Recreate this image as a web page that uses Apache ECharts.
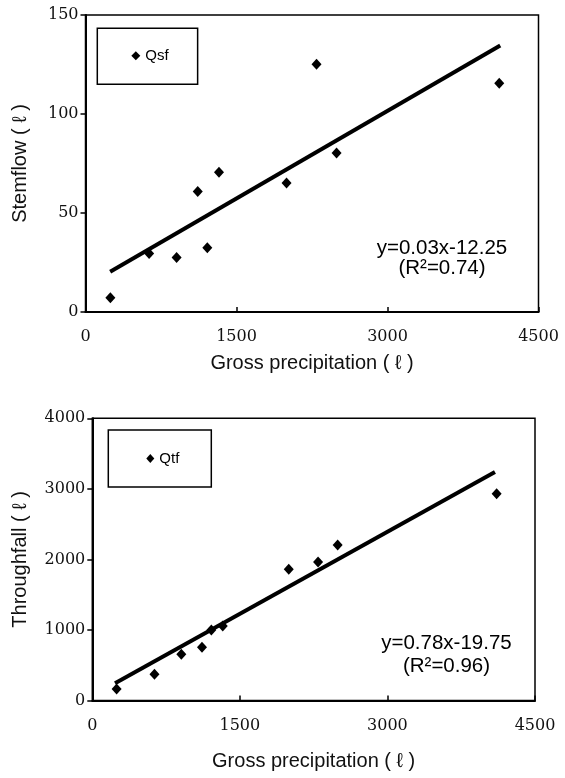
<!DOCTYPE html>
<html>
<head>
<meta charset="utf-8">
<script src="https://cdn.jsdelivr.net/npm/echarts@6/dist/echarts.min.js"></script>
<style>
html,body{margin:0;padding:0;background:#fff;}
#chart{width:565px;height:778px;}
</style>
</head>
<body>
<div id="chart"></div>
<script>
// Gross precipitation (l) for each event, shared by both panels
var grossPrecip = [247, 632, 905, 1115, 1210, 1326, 1997, 2295, 2494, 4110];
// Stemflow (l)
var stemflow = [7.2, 29.5, 27.5, 60.9, 32.5, 70.6, 65.2, 125.1, 80.3, 115.5];
// Throughfall (l)
var throughfall = [163, 371, 655, 754, 999, 1056, 1860, 1963, 2204, 2931];
// Fitted line end points as drawn
var stemFitX = [245, 4120];
var stemFitY = [20.3, 134.6];
var thruFitX = [231, 4093];
var thruFitY = [244, 3239];
// Axis ticks
var xTicks = [0, 1500, 3000, 4500];
var stemTicks = [0, 50, 100, 150];
var thruTicks = [0, 1000, 2000, 3000, 4000];
var stemEq = ['y=0.03x-12.25', '(R\u00B2=0.74)'];
var thruEq = ['y=0.78x-19.75', '(R\u00B2=0.96)'];

function pairs(xs, ys){ return xs.map(function(x,i){ return [x, ys[i]]; }); }

var sans = '"Liberation Sans", Arial, "DejaVu Sans", sans-serif';
var serif = '"DejaVu Serif", serif';
function plain(v){ return String(v); }

function xAx(gi, gap){
  return {
    type:'value', gridIndex:gi, min:xTicks[0], max:xTicks[xTicks.length-1],
    interval:xTicks[1]-xTicks[0],
    name:'Gross precipitation ( \u2113 )', nameLocation:'middle', nameGap:gap,
    nameTextStyle:{fontFamily:sans, fontSize:20, color:'#111'},
    axisLine:{show:true, lineStyle:{color:'#000', width:2}},
    axisTick:{show:true, inside:true, length:5, lineStyle:{color:'#000', width:1.5}},
    axisLabel:{fontFamily:serif, fontSize:16, color:'#111', margin:17, formatter:plain},
    splitLine:{show:false}
  };
}
function yAx(gi, ticks, name, gap){
  return {
    type:'value', gridIndex:gi, min:ticks[0], max:ticks[ticks.length-1],
    interval:ticks[1]-ticks[0],
    name:name, nameLocation:'middle', nameGap:gap,
    nameTextStyle:{fontFamily:sans, fontSize:20, color:'#111'},
    axisLine:{show:true, lineStyle:{color:'#000', width:2}},
    axisTick:{show:true, inside:false, length:5, lineStyle:{color:'#000', width:1.5}},
    axisLabel:{fontFamily:serif, fontSize:16, color:'#111', margin:7, formatter:plain},
    splitLine:{show:false}
  };
}

var chart = echarts.init(document.getElementById('chart'), null, {renderer:'canvas'});
chart.setOption({
  animation:false,
  backgroundColor:'#fff',
  grid:[
    {left:85.5, top:15, width:453, height:297, show:true, borderColor:'#000', borderWidth:1.5, backgroundColor:'transparent'},
    {left:92.3, top:418.3, width:442.7, height:282.2, show:true, borderColor:'#000', borderWidth:1.5, backgroundColor:'transparent'}
  ],
  xAxis:[xAx(0, 41), xAx(1, 51)],
  yAxis:[yAx(0, stemTicks, 'Stemflow ( \u2113 )', 55), yAx(1, thruTicks, 'Throughfall ( \u2113 )', 62)],
  legend:[
    {data:['Qsf'], left:97.3, top:28.3, orient:'vertical', padding:[20,29,21,34],
     borderColor:'#000', borderWidth:1.5, selectedMode:false,
     itemWidth:9, itemHeight:9, icon:'diamond',
     textStyle:{fontFamily:sans, fontSize:15, color:'#000'}},
    {data:['Qtf'], left:108.3, top:430, orient:'vertical', padding:[21,32,21,38],
     borderColor:'#000', borderWidth:1.5, selectedMode:false,
     itemWidth:8, itemHeight:9, icon:'diamond',
     textStyle:{fontFamily:sans, fontSize:15, color:'#000'}}
  ],
  graphic:[
    {type:'text', x:442, y:258, style:{text:stemEq.join('\n'), fontFamily:sans, fontSize:20.5, lineHeight:20, fill:'#000', textAlign:'center', textVerticalAlign:'middle'}},
    {type:'text', x:446.5, y:655, style:{text:thruEq.join('\n'), fontFamily:sans, fontSize:20.5, lineHeight:23, fill:'#000', textAlign:'center', textVerticalAlign:'middle'}}
  ],
  series:[
    {name:'Qsf', type:'scatter', xAxisIndex:0, yAxisIndex:0, symbol:'diamond', symbolSize:[10,11],
     itemStyle:{color:'#000', opacity:1}, data:pairs(grossPrecip, stemflow), z:3},
    {name:'Qsf fit', type:'line', xAxisIndex:0, yAxisIndex:0, showSymbol:false, symbol:'none',
     lineStyle:{color:'#000', width:4}, data:pairs(stemFitX, stemFitY), z:2},
    {name:'Qtf', type:'scatter', xAxisIndex:1, yAxisIndex:1, symbol:'diamond', symbolSize:[10,11],
     itemStyle:{color:'#000', opacity:1}, data:pairs(grossPrecip, throughfall), z:3},
    {name:'Qtf fit', type:'line', xAxisIndex:1, yAxisIndex:1, showSymbol:false, symbol:'none',
     lineStyle:{color:'#000', width:4}, data:pairs(thruFitX, thruFitY), z:2}
  ]
});
</script>
</body>
</html>
